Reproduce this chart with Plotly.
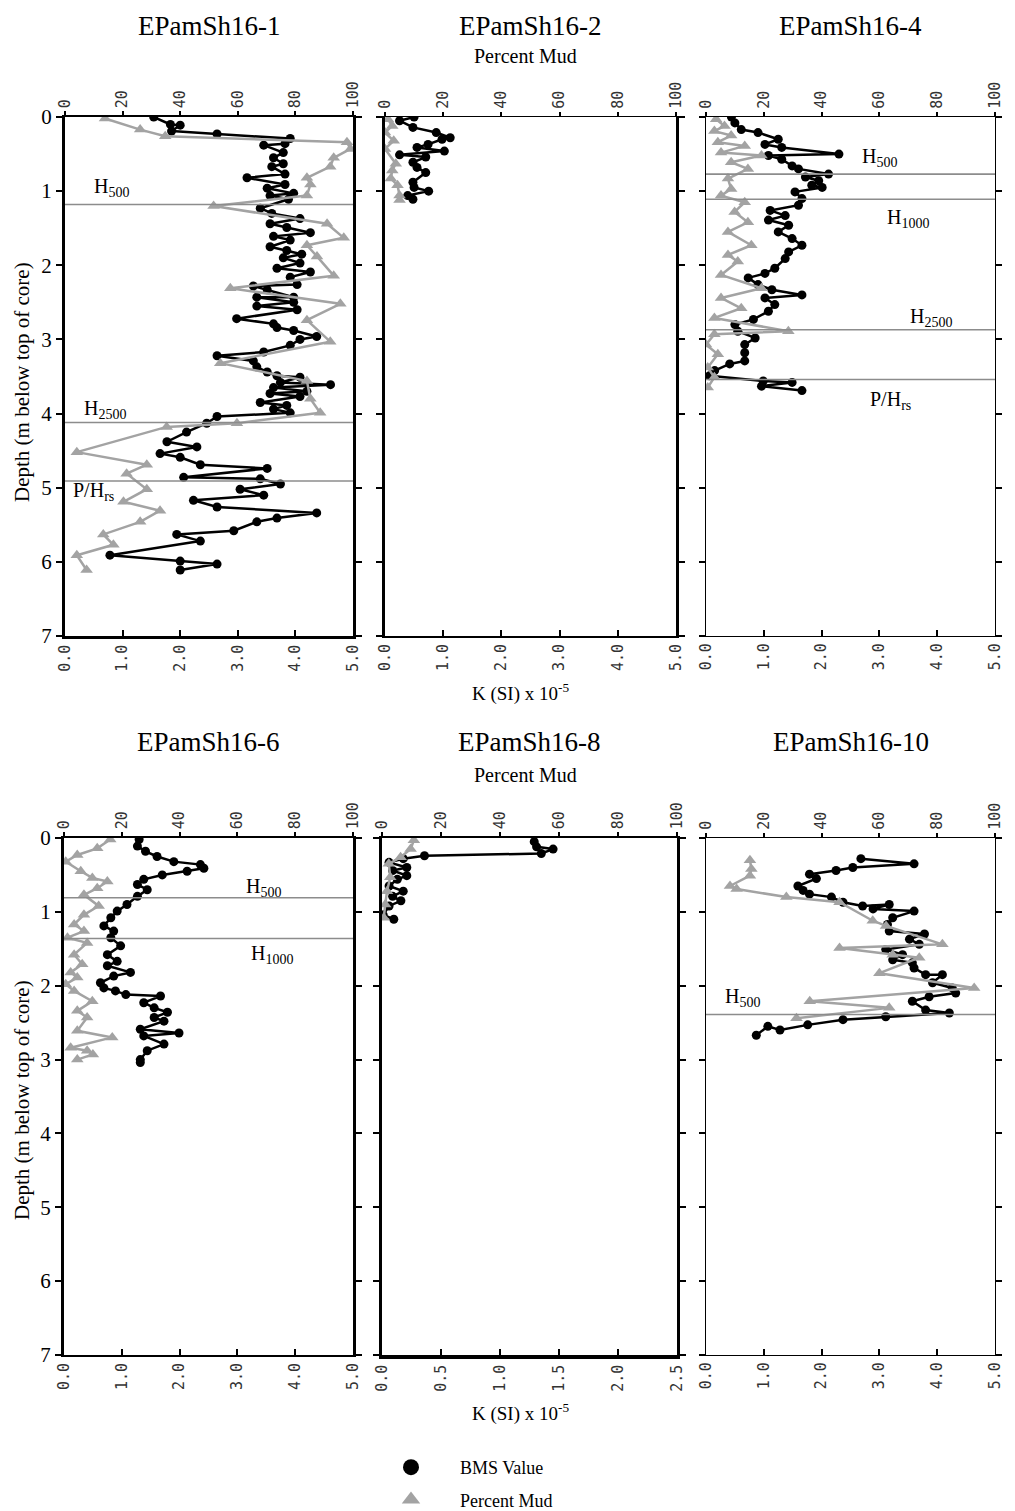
import plotly.graph_objects as go

# ---------------- DATA ----------------
titles = ["EPamSh16-1", "EPamSh16-2", "EPamSh16-4", "EPamSh16-6", "EPamSh16-8", "EPamSh16-10"]

# EPamSh16-1
bms1_depth = [0.00, 0.10, 0.11, 0.19, 0.23, 0.29, 0.36, 0.38, 0.48, 0.55, 0.63, 0.67, 0.77, 0.82, 0.91, 0.96,
              1.03, 1.06, 1.11, 1.23, 1.30, 1.37, 1.44, 1.49, 1.56, 1.61, 1.66, 1.75, 1.80, 1.85, 1.90, 1.97,
              2.04, 2.09, 2.16, 2.26, 2.28, 2.33, 2.43, 2.43, 2.50, 2.55, 2.60, 2.72, 2.79, 2.84, 2.88, 2.96,
              3.00, 3.08, 3.17, 3.22, 3.29, 3.37, 3.44, 3.49, 3.51, 3.58, 3.61, 3.65, 3.70, 3.73, 3.77, 3.85,
              3.89, 3.94, 3.99, 4.04, 4.13, 4.25, 4.38, 4.45, 4.54, 4.59, 4.69, 4.74, 4.86, 4.88, 4.95, 5.02,
              5.10, 5.17, 5.26, 5.34, 5.41, 5.46, 5.58, 5.63, 5.72, 5.91, 5.99, 6.03, 6.11]
bms1_k = [1.54, 1.83, 2.00, 1.85, 2.64, 3.91, 3.82, 3.45, 3.79, 3.62, 3.79, 3.59, 3.82, 3.16, 3.82, 3.51,
          3.97, 3.56, 3.88, 3.39, 3.59, 4.08, 3.56, 3.85, 4.26, 3.62, 3.91, 3.56, 3.85, 4.11, 3.79, 4.08,
          3.68, 4.26, 3.91, 4.03, 3.27, 3.51, 3.97, 3.33, 3.97, 3.33, 4.03, 2.98, 3.62, 3.68, 3.97, 4.37,
          4.08, 3.91, 3.45, 2.64, 3.27, 3.33, 3.51, 3.68, 4.08, 3.74, 4.61, 3.62, 4.20, 3.56, 4.08, 3.39,
          3.85, 3.62, 3.91, 2.64, 2.46, 2.11, 1.77, 2.29, 1.65, 2.00, 2.35, 3.51, 2.06, 3.39, 3.74, 3.04,
          3.45, 2.23, 2.64, 4.37, 3.68, 3.33, 2.93, 1.94, 2.35, 0.78, 2.00, 2.64, 2.00]
mud1_depth = [0.02, 0.17, 0.26, 0.34, 0.43, 0.55, 0.67, 0.82, 0.91, 1.06, 1.20, 1.44, 1.63, 1.73, 1.88, 2.14,
              2.31, 2.52, 2.74, 3.03, 3.32, 3.56, 3.80, 3.99, 4.13, 4.18, 4.52, 4.69, 4.81, 5.02, 5.19, 5.31,
              5.46, 5.63, 5.77, 5.91, 6.11]
mud1_pct = [13.9, 26.1, 34.8, 97.9, 99.1, 93.3, 92.1, 84.0, 85.2, 84.0, 51.6, 91.0, 96.8, 84.0, 87.5, 93.3,
            57.4, 95.6, 84.0, 92.1, 53.9, 84.0, 85.2, 88.6, 59.7, 35.3, 4.1, 28.4, 21.4, 28.4, 20.3, 33.0,
            26.1, 13.3, 16.8, 4.1, 7.5]

# EPamSh16-2
bms2_depth = [0.00, 0.05, 0.14, 0.21, 0.28, 0.30, 0.37, 0.41, 0.46, 0.51, 0.54, 0.61, 0.68, 0.75, 0.88, 0.95,
              1.00, 1.06, 1.11]
bms2_k = [0.50, 0.25, 0.48, 0.88, 1.12, 0.98, 0.74, 0.55, 1.02, 0.25, 0.70, 0.48, 0.55, 0.70, 0.48, 0.50,
          0.75, 0.39, 0.48]
mud2_depth = [0.03, 0.12, 0.21, 0.32, 0.43, 0.63, 0.72, 0.83, 0.92, 1.06, 1.12]
mud2_pct = [1.0, 2.5, 0.0, 3.0, 0.0, 3.7, 2.5, 2.0, 4.3, 5.0, 5.0]

# EPamSh16-4
bms3_depth = [0.00, 0.08, 0.17, 0.21, 0.30, 0.37, 0.41, 0.50, 0.52, 0.57, 0.66, 0.70, 0.77, 0.81, 0.86, 0.92,
              0.95, 1.01, 1.10, 1.19, 1.26, 1.33, 1.39, 1.46, 1.55, 1.64, 1.73, 1.82, 1.91, 2.04, 2.11, 2.17,
              2.26, 2.33, 2.40, 2.44, 2.53, 2.62, 2.73, 2.80, 2.89, 2.98, 3.07, 3.18, 3.29, 3.33, 3.42, 3.49,
              3.56, 3.58, 3.63, 3.69]
bms3_k = [0.44, 0.50, 0.61, 0.90, 1.25, 1.02, 1.31, 2.30, 1.08, 1.31, 1.49, 1.60, 2.12, 1.72, 1.95, 1.83,
          2.01, 1.54, 1.66, 1.60, 1.11, 1.37, 1.08, 1.43, 1.25, 1.49, 1.66, 1.43, 1.37, 1.19, 1.02, 0.73,
          0.90, 1.14, 1.66, 1.02, 1.19, 1.08, 0.82, 0.50, 0.55, 0.85, 0.67, 0.67, 0.67, 0.41, 0.15, 0.06,
          0.99, 1.49, 0.96, 1.66]
mud3_depth = [0.03, 0.12, 0.19, 0.25, 0.34, 0.39, 0.48, 0.52, 0.61, 0.70, 0.83, 0.97, 1.06, 1.15, 1.28, 1.42,
              1.55, 1.73, 1.86, 1.95, 2.13, 2.31, 2.44, 2.58, 2.71, 2.89, 2.93, 3.07, 3.20, 3.38, 3.51, 3.65]
mud3_pct = [3.5, 6.4, 2.9, 8.7, 4.1, 13.4, 5.2, 19.2, 8.7, 14.5, 7.6, 8.7, 5.2, 13.4, 9.9, 14.5,
            7.6, 15.7, 7.6, 11.0, 5.2, 19.2, 5.2, 12.2, 2.9, 28.5, 2.9, 0.0, 4.1, 0.6, 2.9, 0.6]

# EPamSh16-6
bms4_depth = [0.02, 0.11, 0.18, 0.25, 0.32, 0.36, 0.41, 0.45, 0.50, 0.56, 0.63, 0.70, 0.79, 0.90, 0.99, 1.08,
              1.19, 1.26, 1.35, 1.46, 1.58, 1.67, 1.73, 1.82, 1.87, 1.96, 2.03, 2.07, 2.12, 2.14, 2.23, 2.30,
              2.36, 2.43, 2.48, 2.59, 2.64, 2.68, 2.79, 2.88, 3.00, 3.04]
bms4_k = [1.30, 1.27, 1.41, 1.61, 1.90, 2.36, 2.42, 2.13, 1.70, 1.38, 1.27, 1.44, 1.27, 1.09, 0.92, 0.81,
          0.69, 0.86, 0.81, 0.98, 0.75, 0.92, 0.75, 1.15, 0.86, 0.63, 0.69, 0.89, 1.07, 1.67, 1.38, 1.56,
          1.79, 1.56, 1.73, 1.32, 1.99, 1.38, 1.73, 1.44, 1.32, 1.32]
mud4_depth = [0.02, 0.14, 0.23, 0.32, 0.45, 0.54, 0.59, 0.68, 0.77, 0.92, 1.04, 1.17, 1.26, 1.35, 1.42, 1.58,
              1.71, 1.82, 1.89, 1.98, 2.07, 2.21, 2.34, 2.43, 2.61, 2.70, 2.84, 2.88, 2.93, 3.00]
mud4_pct = [16.0, 11.5, 4.6, 0.6, 5.8, 9.8, 15.0, 11.5, 6.9, 12.0, 6.9, 3.5, 6.9, 1.2, 8.0, 3.5,
            6.3, 2.3, 4.6, 0.6, 3.5, 9.8, 4.6, 8.0, 4.6, 16.7, 2.3, 8.0, 10.0, 4.6]

# EPamSh16-8
bms5_depth = [0.05, 0.12, 0.15, 0.21, 0.24, 0.28, 0.33, 0.40, 0.44, 0.51, 0.56, 0.65, 0.72, 0.79, 0.85, 0.92,
              1.04, 1.10]
bms5_k = [1.29, 1.31, 1.45, 1.35, 0.36, 0.18, 0.06, 0.21, 0.09, 0.21, 0.13, 0.06, 0.18, 0.09, 0.16, 0.06,
          0.01, 0.10]
mud5_depth = [0.03, 0.15, 0.26, 0.35, 0.53, 0.72, 0.90, 1.08]
mud5_pct = [10.8, 9.7, 6.3, 2.3, 2.8, 1.7, 1.1, 0.6]

# EPamSh16-10
bms6_depth = [0.28, 0.35, 0.40, 0.44, 0.49, 0.55, 0.65, 0.71, 0.76, 0.80, 0.87, 0.92, 0.90, 0.96, 0.99, 1.08,
              1.17, 1.26, 1.30, 1.37, 1.44, 1.51, 1.58, 1.65, 1.69, 1.76, 1.85, 1.85, 1.96, 2.03, 2.10, 2.15,
              2.21, 2.33, 2.37, 2.42, 2.46, 2.53, 2.60, 2.55, 2.67]
bms6_k = [2.68, 3.60, 2.54, 2.25, 1.79, 1.91, 1.59, 1.68, 1.79, 2.17, 2.37, 2.71, 3.17, 2.89, 3.60, 3.23,
          3.14, 3.17, 3.78, 3.52, 3.69, 3.11, 3.40, 3.23, 3.57, 3.60, 3.80, 4.09, 3.92, 4.26, 4.32, 3.86,
          3.57, 3.80, 4.21, 3.11, 2.37, 1.76, 1.28, 1.07, 0.87]
mud6_depth = [0.30, 0.42, 0.51, 0.65, 0.69, 0.80, 0.87, 1.12, 1.19, 1.44, 1.49, 1.58, 1.62, 1.83, 2.03, 2.21,
              2.30, 2.44]
mud6_pct = [15.2, 15.7, 15.2, 8.3, 10.6, 27.8, 46.2, 57.7, 62.3, 81.8, 46.2, 64.6, 73.8, 60.0, 92.8, 35.9,
            63.4, 31.3]

bms_depths = [bms1_depth, bms2_depth, bms3_depth, bms4_depth, bms5_depth, bms6_depth]
bms_values = [bms1_k, bms2_k, bms3_k, bms4_k, bms5_k, bms6_k]
mud_depths = [mud1_depth, mud2_depth, mud3_depth, mud4_depth, mud5_depth, mud6_depth]
mud_values = [mud1_pct, mud2_pct, mud3_pct, mud4_pct, mud5_pct, mud6_pct]

k_max = [5.0, 5.0, 5.0, 5.0, 2.5, 5.0]
k_step = [1.0, 1.0, 1.0, 1.0, 0.5, 1.0]
pct_ticks = [0, 20, 40, 60, 80, 100]
depth_ticks = [0, 1, 2, 3, 4, 5, 6, 7]

# horizons: depth of line, label text, label position (percent mud, depth)
horizon_depths = [[1.18, 4.12, 4.91], [], [0.77, 1.11, 2.87, 3.54], [0.81, 1.36], [], [2.39]]
horizon_texts = [["H<sub>500</sub>", "H<sub>2500</sub>", "P/H<sub>rs</sub>"], [],
                 ["H<sub>500</sub>", "H<sub>1000</sub>", "H<sub>2500</sub>", "P/H<sub>rs</sub>"],
                 ["H<sub>500</sub>", "H<sub>1000</sub>"], [], ["H<sub>500</sub>"]]
horizon_label_pct = [[16, 14, 10], [], [60, 70, 78, 64], [69, 72], [], [12.5]]
horizon_label_depth = [[0.95, 3.95, 5.05], [], [0.55, 1.37, 2.70, 3.82], [0.67, 1.58], [], [2.16]]

# ---------------- LAYOUT ----------------
PAGE_W, PAGE_H = 1015, 1511
OFF = 8  # default page body margin
W, H = PAGE_W - OFF, PAGE_H - OFF
SERIF = "Liberation Serif"
MONO = "DejaVu Sans Mono"
BLACK = "#000000"
GREY = "#a3a3a3"

# plot-area positions in page pixels
panel_x = [(65, 353), (385, 676), (706, 995), (64, 353), (382, 677), (706, 995)]
panel_y = [(117, 636)] * 3 + [(838, 1355)] * 3
y_line_w = [3, 2.5, 1.3, 3, 3, 1.3]
k_line_w = [2.5, 2.0, 1.3, 2.0, 3.5, 1.3]
m_line_w = [1.5, 1.3, 1.3, 1.5, 1.5, 1.3]


def fx(px):
    return (px - OFF) / W


def fy(py):
    return 1 - (py - OFF) / H


def ax_name(letter, n):
    return letter if n == 1 else f"{letter}{n}"


def ax_key(letter, n):
    return f"{letter}axis" if n == 1 else f"{letter}axis{n}"


fig = go.Figure()
layout = {}
annotations = []
shapes = []
tick_font = dict(family=MONO, size=15, color="#333333")

for p in range(6):
    kx, mx, yy = 2 * p + 1, 2 * p + 2, p + 1
    xd = [fx(panel_x[p][0]), fx(panel_x[p][1])]
    yd = [fy(panel_y[p][1]), fy(panel_y[p][0])]
    nk = int(round(k_max[p] / k_step[p]))
    kticks = [k_step[p] * i for i in range(nk + 1)]
    layout[ax_key("x", kx)] = dict(
        domain=xd, anchor=ax_name("y", yy), range=[0, k_max[p]], tickvals=kticks, automargin=False,
        tickformat=".1f", tickangle=-90, ticks="inside", ticklen=6, tickwidth=2, tickcolor="black",
        showline=True, linewidth=k_line_w[p], linecolor="black", showgrid=False, zeroline=False,
        tickfont=tick_font, side="bottom", fixedrange=True)
    layout[ax_key("x", mx)] = dict(
        domain=xd, overlaying=ax_name("x", kx), anchor=ax_name("y", yy), side="top", range=[0, 100],
        tickvals=pct_ticks, tickangle=-90, ticks="outside", ticklen=4, tickwidth=1.5, tickcolor="black",
        showline=True, linewidth=m_line_w[p], linecolor="black", showgrid=False, zeroline=False,
        automargin=False, tickfont=tick_font, fixedrange=True)
    layout[ax_key("y", yy)] = dict(
        domain=yd, anchor=ax_name("x", kx), range=[7, 0], tickvals=depth_ticks, ticks="outside",
        ticklen=6, tickwidth=1.5, tickcolor="black", showline=True, mirror="ticks", automargin=False,
        linewidth=y_line_w[p], linecolor="black", showgrid=False, zeroline=False,
        showticklabels=(p in (0, 3)), tickfont=dict(family=SERIF, size=21, color="black"),
        fixedrange=True)

    # percent mud (grey triangles) on top axis
    fig.add_trace(go.Scatter(
        x=mud_values[p], y=mud_depths[p], xaxis=ax_name("x", mx), yaxis=ax_name("y", yy),
        mode="lines+markers", line=dict(color=GREY, width=2.5),
        marker=dict(symbol="triangle-up", size=11, color=GREY), showlegend=False,
        name="Percent Mud"))
    # BMS values (black circles) on bottom axis
    fig.add_trace(go.Scatter(
        x=bms_values[p], y=bms_depths[p], xaxis=ax_name("x", kx), yaxis=ax_name("y", yy),
        mode="lines+markers", line=dict(color=BLACK, width=2.5),
        marker=dict(symbol="circle", size=9, color=BLACK), showlegend=False, name="BMS Value"))

    for d in horizon_depths[p]:
        shapes.append(dict(type="line", xref=f"{ax_name('x', mx)} domain", x0=0, x1=1,
                           yref=ax_name("y", yy), y0=d, y1=d, line=dict(color="#8c8c8c", width=1.6),
                           layer="above"))
    for t, lx, ly in zip(horizon_texts[p], horizon_label_pct[p], horizon_label_depth[p]):
        annotations.append(dict(text=t, x=lx, y=ly, xref=ax_name("x", mx), yref=ax_name("y", yy),
                                xanchor="center", yanchor="middle", showarrow=False,
                                font=dict(family=SERIF, size=20, color="black")))

    # panel title
    if p < 3:
        ty, tanchor = fy(OFF + 1), "top"
    else:
        ty, tanchor = fy(742), "middle"
    annotations.append(dict(text=titles[p], x=fx((panel_x[p][0] + panel_x[p][1]) / 2),
                            y=ty, xref="paper", yref="paper", showarrow=False,
                            font=dict(family=SERIF, size=27, color="black"),
                            xanchor="center", yanchor=tanchor))

# axis titles
for row, (ymud, yk, ydepth) in enumerate([(56, 692, 382), (775, 1412, 1100)]):
    annotations.append(dict(text="Percent Mud", x=fx(525), y=fy(ymud), xref="paper", yref="paper",
                            xanchor="center", yanchor="middle", showarrow=False,
                            font=dict(family=SERIF, size=20, color="black")))
    annotations.append(dict(text="K (SI) x 10<sup>-5</sup>", x=fx(520), y=fy(yk), xref="paper",
                            yref="paper", xanchor="center", yanchor="middle", showarrow=False,
                            font=dict(family=SERIF, size=19, color="black")))
    annotations.append(dict(text="Depth (m below top of core)", x=fx(22), y=fy(ydepth), xref="paper",
                            yref="paper", xanchor="center", yanchor="middle", showarrow=False,
                            textangle=-90, font=dict(family=SERIF, size=21, color="black")))

# legend entries
fig.add_trace(go.Scatter(x=[None], y=[None], mode="markers", name="BMS Value", legendgroup="a",
                         marker=dict(symbol="circle", size=16, color=BLACK)))
fig.add_trace(go.Scatter(x=[None], y=[None], mode="markers", name="Percent Mud", legendgroup="b",
                         marker=dict(symbol="triangle-up", size=16, color=GREY)))

fig.update_layout(
    width=W, height=H, margin=dict(l=0, r=0, t=0, b=0, autoexpand=False),
    paper_bgcolor="white", plot_bgcolor="white",
    annotations=annotations, shapes=shapes, showlegend=True,
    legend=dict(x=fx(362), y=fy(1449), xanchor="left", yanchor="top", tracegroupgap=6,
                itemwidth=88, font=dict(family=SERIF, size=18, color="black"),
                bgcolor="rgba(0,0,0,0)"),
    **layout)

fig.write_html("out.html")
